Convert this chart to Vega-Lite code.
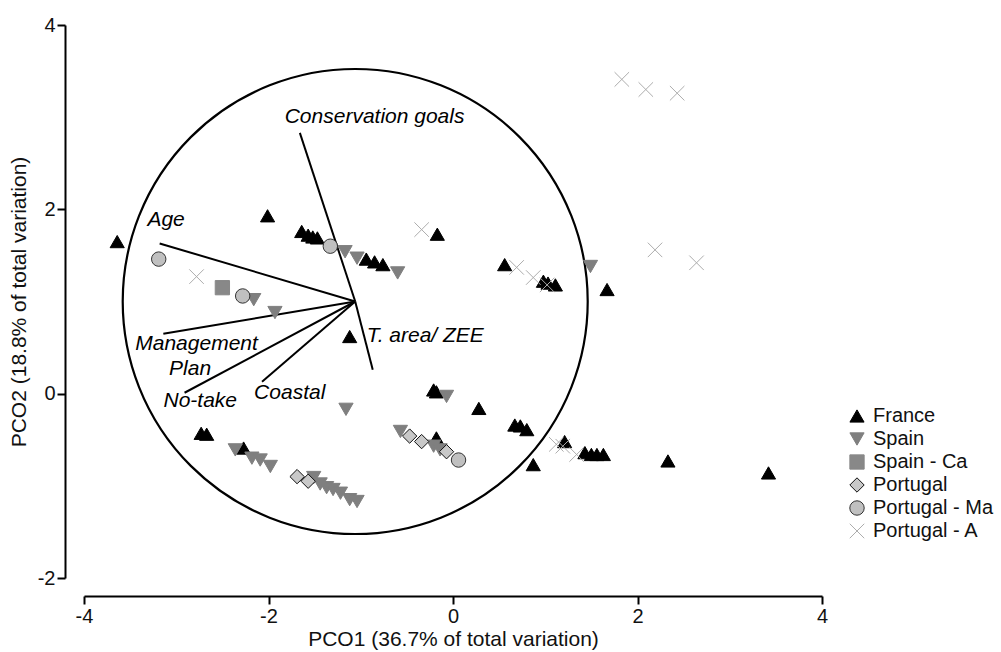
{
  "$schema": "https://vega.github.io/schema/vega-lite/v6.json",
  "width": 738,
  "height": 553,
  "autosize": {"type": "none"},
  "padding": {"left": 84, "top": 25, "right": 179, "bottom": 74},
  "background": "white",
  "config": {
    "view": {"stroke": null},
    "font": "Liberation Sans",
    "axis": {
      "grid": false,
      "domainColor": "#000000",
      "domainWidth": 2,
      "tickColor": "#000000",
      "tickWidth": 2,
      "tickSize": 8,
      "labelFont": "Liberation Sans",
      "labelFontSize": 20,
      "labelColor": "#111111",
      "labelPadding": 2,
      "titleFont": "Liberation Sans",
      "titleFontSize": 21,
      "titleFontWeight": "normal",
      "titleColor": "#111111",
      "labelFlush": false,
      "labelExpr": "replace(datum.label, '\u2212', '-')"
    },
    "axisX": {"offset": 18, "titlePadding": 2},
    "axisY": {"offset": 19, "titlePadding": 8}
  },
  "datasets": {
    "samples": [
      {"g": "France", "x": -3.64, "y": 1.65},
      {"g": "France", "x": -2.01, "y": 1.93},
      {"g": "France", "x": -1.64, "y": 1.76},
      {"g": "France", "x": -1.57, "y": 1.72},
      {"g": "France", "x": -1.52, "y": 1.70},
      {"g": "France", "x": -1.47, "y": 1.69},
      {"g": "France", "x": -0.94, "y": 1.46},
      {"g": "France", "x": -0.85, "y": 1.43},
      {"g": "France", "x": -0.76, "y": 1.40},
      {"g": "France", "x": -1.12, "y": 0.62},
      {"g": "France", "x": -0.17, "y": 1.73},
      {"g": "France", "x": 0.56, "y": 1.40},
      {"g": "France", "x": 0.98, "y": 1.22},
      {"g": "France", "x": 1.03, "y": 1.20},
      {"g": "France", "x": 1.11, "y": 1.18},
      {"g": "France", "x": 1.67, "y": 1.13},
      {"g": "France", "x": -0.21, "y": 0.04},
      {"g": "France", "x": -0.18, "y": 0.02},
      {"g": "France", "x": 0.28, "y": -0.16},
      {"g": "France", "x": 0.67, "y": -0.34},
      {"g": "France", "x": 0.73, "y": -0.35},
      {"g": "France", "x": 0.80, "y": -0.39},
      {"g": "France", "x": 0.87, "y": -0.77},
      {"g": "France", "x": 1.21, "y": -0.52},
      {"g": "France", "x": 1.43, "y": -0.64},
      {"g": "France", "x": 1.50, "y": -0.66},
      {"g": "France", "x": 1.56, "y": -0.66},
      {"g": "France", "x": 1.63, "y": -0.66},
      {"g": "France", "x": 2.33, "y": -0.73},
      {"g": "France", "x": 3.42, "y": -0.86},
      {"g": "France", "x": -2.73, "y": -0.43},
      {"g": "France", "x": -2.67, "y": -0.44},
      {"g": "France", "x": -2.27, "y": -0.59},
      {"g": "France", "x": -0.18, "y": -0.48},
      {"g": "Spain", "x": -2.16, "y": 1.02},
      {"g": "Spain", "x": -1.93, "y": 0.88},
      {"g": "Spain", "x": -1.17, "y": 1.54},
      {"g": "Spain", "x": -1.04, "y": 1.47},
      {"g": "Spain", "x": -0.60, "y": 1.31},
      {"g": "Spain", "x": -1.16, "y": -0.17},
      {"g": "Spain", "x": -0.07, "y": -0.03},
      {"g": "Spain", "x": 1.49, "y": 1.38},
      {"g": "Spain", "x": -0.57, "y": -0.41},
      {"g": "Spain", "x": -0.21, "y": -0.57},
      {"g": "Spain", "x": -0.14, "y": -0.61},
      {"g": "Spain", "x": -2.36, "y": -0.61},
      {"g": "Spain", "x": -2.18, "y": -0.70},
      {"g": "Spain", "x": -2.09, "y": -0.72},
      {"g": "Spain", "x": -1.98, "y": -0.79},
      {"g": "Spain", "x": -1.51, "y": -0.91},
      {"g": "Spain", "x": -1.44, "y": -0.98},
      {"g": "Spain", "x": -1.37, "y": -1.02},
      {"g": "Spain", "x": -1.30, "y": -1.04},
      {"g": "Spain", "x": -1.22, "y": -1.08},
      {"g": "Spain", "x": -1.12, "y": -1.15},
      {"g": "Spain", "x": -1.04, "y": -1.17},
      {"g": "Spain - Ca", "x": -2.50, "y": 1.15},
      {"g": "Portugal", "x": -1.69, "y": -0.90},
      {"g": "Portugal", "x": -1.57, "y": -0.95},
      {"g": "Portugal", "x": -0.47, "y": -0.46},
      {"g": "Portugal", "x": -0.34, "y": -0.52},
      {"g": "Portugal", "x": -0.07, "y": -0.63},
      {"g": "Portugal - Ma", "x": -3.19, "y": 1.46},
      {"g": "Portugal - Ma", "x": -2.28, "y": 1.06},
      {"g": "Portugal - Ma", "x": -1.33, "y": 1.60},
      {"g": "Portugal - Ma", "x": 0.06, "y": -0.72},
      {"g": "Portugal - A", "x": -2.78, "y": 1.27},
      {"g": "Portugal - A", "x": -0.34, "y": 1.78},
      {"g": "Portugal - A", "x": 0.69, "y": 1.37},
      {"g": "Portugal - A", "x": 0.87, "y": 1.26},
      {"g": "Portugal - A", "x": 1.02, "y": 1.18},
      {"g": "Portugal - A", "x": 2.19, "y": 1.56},
      {"g": "Portugal - A", "x": 2.64, "y": 1.42},
      {"g": "Portugal - A", "x": 1.83, "y": 3.41},
      {"g": "Portugal - A", "x": 2.09, "y": 3.30},
      {"g": "Portugal - A", "x": 2.43, "y": 3.26},
      {"g": "Portugal - A", "x": 1.12, "y": -0.55},
      {"g": "Portugal - A", "x": 1.19, "y": -0.57},
      {"g": "Portugal - A", "x": 1.34, "y": -0.66}
    ],
    "vectors": [
      {"v": "Age", "x0": -1.06, "y0": 1.0, "x1": -3.18, "y1": 1.63},
      {"v": "Management Plan", "x0": -1.06, "y0": 1.0, "x1": -3.14, "y1": 0.65},
      {"v": "No-take", "x0": -1.06, "y0": 1.0, "x1": -2.91, "y1": 0.01},
      {"v": "Coastal", "x0": -1.06, "y0": 1.0, "x1": -2.07, "y1": 0.13},
      {"v": "Conservation goals", "x0": -1.06, "y0": 1.0, "x1": -1.66, "y1": 2.83},
      {"v": "T. area/ ZEE", "x0": -1.06, "y0": 1.0, "x1": -0.87, "y1": 0.26}
    ],
    "vectorLabels": [
      {"t": "Age", "x": -3.11, "y": 1.88},
      {"t": "Conservation goals", "x": -0.85, "y": 3.0},
      {"t": "Management", "x": -2.78, "y": 0.54},
      {"t": "Plan", "x": -2.85, "y": 0.27},
      {"t": "No-take", "x": -2.74, "y": -0.08},
      {"t": "Coastal", "x": -1.77, "y": 0.01},
      {"t": "T. area/ ZEE", "x": -0.30, "y": 0.63}
    ],
    "circle": [
      {"cx": -1.06, "cy": 1.0}
    ]
  },
  "layer": [
    {
      "data": {"name": "circle"},
      "mark": {"type": "point", "shape": "circle", "filled": false, "size": 216225, "stroke": "#000000", "strokeWidth": 2.2, "opacity": 1},
      "encoding": {
        "x": {"field": "cx", "type": "quantitative", "scale": {"domain": [-4, 4], "nice": false, "zero": false},
              "axis": {"title": "PCO1 (36.7% of total variation)", "values": [-4, -2, 0, 2, 4], "offset": 18}},
        "y": {"field": "cy", "type": "quantitative", "scale": {"domain": [-2, 4], "nice": false, "zero": false},
              "axis": {"title": "PCO2 (18.8% of total variation)", "values": [-2, 0, 2, 4], "offset": 19}}
      }
    },
    {
      "data": {"name": "vectors"},
      "mark": {"type": "rule", "color": "#000000", "strokeWidth": 2},
      "encoding": {
        "x": {"field": "x0", "type": "quantitative", "scale": {"domain": [-4, 4], "nice": false, "zero": false},
              "axis": {"title": "PCO1 (36.7% of total variation)", "values": [-4, -2, 0, 2, 4], "offset": 18}},
        "x2": {"field": "x1"},
        "y": {"field": "y0", "type": "quantitative", "scale": {"domain": [-2, 4], "nice": false, "zero": false},
              "axis": {"title": "PCO2 (18.8% of total variation)", "values": [-2, 0, 2, 4], "offset": 19}},
        "y2": {"field": "y1"}
      }
    },
    {
      "data": {"name": "vectorLabels"},
      "mark": {"type": "text", "font": "Liberation Sans", "fontStyle": "italic", "fontSize": 21, "color": "#000000", "align": "center", "baseline": "middle"},
      "encoding": {
        "x": {"field": "x", "type": "quantitative", "scale": {"domain": [-4, 4], "nice": false, "zero": false},
              "axis": {"title": "PCO1 (36.7% of total variation)", "values": [-4, -2, 0, 2, 4], "offset": 18}},
        "y": {"field": "y", "type": "quantitative", "scale": {"domain": [-2, 4], "nice": false, "zero": false},
              "axis": {"title": "PCO2 (18.8% of total variation)", "values": [-2, 0, 2, 4], "offset": 19}},
        "text": {"field": "t"}
      }
    },
    {
      "data": {"name": "samples"},
      "mark": {"type": "point", "filled": true, "opacity": 1},
      "encoding": {
        "x": {"field": "x", "type": "quantitative", "scale": {"domain": [-4, 4], "nice": false, "zero": false},
              "axis": {"title": "PCO1 (36.7% of total variation)", "values": [-4, -2, 0, 2, 4], "offset": 18}},
        "y": {"field": "y", "type": "quantitative", "scale": {"domain": [-2, 4], "nice": false, "zero": false},
              "axis": {"title": "PCO2 (18.8% of total variation)", "values": [-2, 0, 2, 4], "offset": 19}},
        "shape": {"field": "g", "type": "nominal",
                  "scale": {"domain": ["France", "Spain", "Spain - Ca", "Portugal", "Portugal - Ma", "Portugal - A"],
                            "range": ["triangle-up", "triangle-down", "square", "diamond", "circle", "M-1,-1L1,1M-1,1L1,-1"]},
                  "legend": {"orient": "none", "legendX": 763, "legendY": 381, "title": null, "labelFont": "Liberation Sans", "labelFontSize": 20, "labelColor": "#111111", "rowPadding": 3, "labelOffset": 6}},
        "fill": {"field": "g", "type": "nominal",
                 "scale": {"domain": ["France", "Spain", "Spain - Ca", "Portugal", "Portugal - Ma", "Portugal - A"],
                           "range": ["#000000", "#7f7f7f", "#888888", "#c8c8c8", "#c0c0c0", "#adadad"]}},
        "stroke": {"field": "g", "type": "nominal",
                   "scale": {"domain": ["France", "Spain", "Spain - Ca", "Portugal", "Portugal - Ma", "Portugal - A"],
                             "range": ["#000000", "#7f7f7f", "#888888", "#111111", "#333333", "#adadad"]}},
        "size": {"field": "g", "type": "nominal",
                 "scale": {"domain": ["France", "Spain", "Spain - Ca", "Portugal", "Portugal - Ma", "Portugal - A"],
                           "range": [200, 210, 130, 240, 230, 130]}},
        "strokeWidth": {"field": "g", "type": "nominal",
                        "scale": {"domain": ["France", "Spain", "Spain - Ca", "Portugal", "Portugal - Ma", "Portugal - A"],
                                  "range": [1, 1, 1, 1.6, 1.4, 3]}}
      }
    }
  ]
}
